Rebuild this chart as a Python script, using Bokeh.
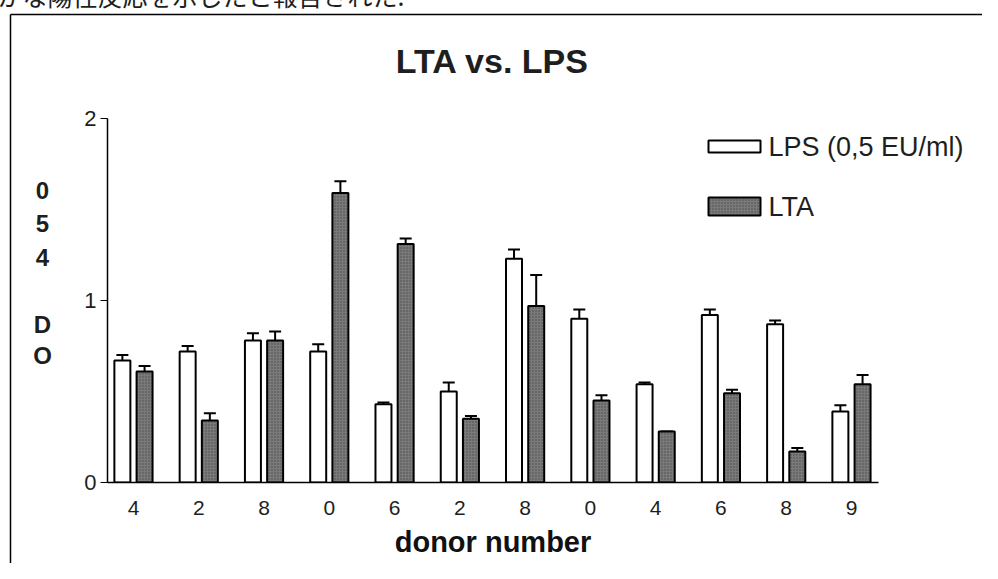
from bokeh.plotting import figure
from bokeh.models import ColumnDataSource, Whisker, TeeHead, FixedTicker, Range1d
from bokeh.core.properties import value
from bokeh.embed import file_html
from bokeh.resources import INLINE

# ---------------- data ----------------
donor_labels = ["4", "2", "8", "0", "6", "2", "8", "0", "4", "6", "8", "9"]
lps_values = [0.67, 0.72, 0.78, 0.72, 0.43, 0.50, 1.23, 0.90, 0.54, 0.92, 0.87, 0.39]
lps_errors = [0.03, 0.03, 0.04, 0.04, 0.01, 0.05, 0.05, 0.05, 0.01, 0.03, 0.02, 0.035]
lta_values = [0.61, 0.34, 0.78, 1.59, 1.31, 0.35, 0.97, 0.45, 0.28, 0.49, 0.17, 0.54]
lta_errors = [0.03, 0.04, 0.05, 0.065, 0.03, 0.015, 0.17, 0.03, 0.0, 0.02, 0.02, 0.05]
y_ticks = [0, 1, 2]

series_names = ["LPS (0,5 EU/ml)", "LTA"]
title_text = "LTA vs. LPS"
x_title = "donor number"
y_title_top = "0\n5\n4"
y_title_bottom = "D\nO"
page_caption = "かな陽性反応を示したと報告された."

# ---------------- layout helpers ----------------
W, H = 982, 563
FL, FR, FT, FB = 107, 878, 118, 482     # frame edges in canvas pixels
X0, X1 = 0.602, 12.414
Y0, Y1 = 0.0, 2.0


def dx(px):
    return X0 + (px - FL) * (X1 - X0) / (FR - FL)


def dy(py):
    return Y0 + (FB - py) * (Y1 - Y0) / (FB - FT)


n = len(donor_labels)
xs = list(range(1, n + 1))
off = 0.17
src = ColumnDataSource(dict(
    x=xs,
    x_lps=[x - off for x in xs],
    x_lta=[x + off for x in xs],
    lps=lps_values,
    lta=lta_values,
    lps_hi=[v + e for v, e in zip(lps_values, lps_errors)],
    lta_hi=[v + e for v, e in zip(lta_values, lta_errors)],
))

p = figure(width=W, height=H, x_range=Range1d(X0, X1), y_range=Range1d(Y0, Y1),
           output_backend="svg", toolbar_location=None,
           min_border_left=FL, min_border_right=W - FR,
           min_border_top=FT, min_border_bottom=H - FB)
p.background_fill_color = "white"
p.border_fill_color = "white"
p.outline_line_color = None
p.xgrid.visible = False
p.ygrid.visible = False

FONT = "Liberation Sans"
INK = "#1e1e1e"
LPS_STYLE = dict(fill_color="white", line_color="black", line_width=2)
LTA_STYLE = dict(fill_color="#7a7a7a", line_color="black", line_width=2,
                 hatch_pattern="dot", hatch_color="#4a4a4a", hatch_scale=3, hatch_weight=1)

for base, lo, hi in (("x_lps", "lps", "lps_hi"), ("x_lta", "lta", "lta_hi")):
    w = Whisker(source=src, base=base, lower=lo, upper=hi, line_width=2, line_color="black",
                upper_head=TeeHead(size=12, line_width=2, line_color="black"), lower_head=None)
    p.add_layout(w)

p.vbar(x="x_lps", top="lps", width=0.245, source=src, **LPS_STYLE)
p.vbar(x="x_lta", top="lta", width=0.245, source=src, **LTA_STYLE)

# axes
xa = p.xaxis[0]
xa.ticker = FixedTicker(ticks=xs)
xa.major_label_overrides = {x: lab for x, lab in zip(xs, donor_labels)}
xa.major_tick_line_color = None
xa.minor_tick_line_color = None
xa.axis_line_width = 1.5
xa.major_label_standoff = 12
xa.major_label_text_font = FONT
xa.major_label_text_font_size = "21px"
xa.major_label_text_color = INK
xa.axis_label = x_title
xa.axis_label_text_font = FONT
xa.axis_label_text_font_style = "bold"
xa.axis_label_text_font_size = "29px"
xa.axis_label_text_color = "#111111"
xa.axis_label_standoff = 8

ya = p.yaxis[0]
ya.ticker = FixedTicker(ticks=y_ticks)
ya.minor_tick_line_color = None
ya.major_tick_in = 0
ya.major_tick_out = 7
ya.axis_line_width = 1.5
ya.major_label_standoff = 4
ya.major_label_text_font = FONT
ya.major_label_text_font_size = "22px"
ya.major_label_text_color = INK

# title, stacked y label and page caption as unclipped text glyphs
p.text(x=[dx(492)], y=[dy(41)], text=[title_text], text_align="center",
       text_baseline="top", text_font=value(FONT), text_font_size="34px",
       text_font_style="bold", text_color=INK, level="overlay")
p.text(x=[dx(42)], y=[dy(176)], text=[y_title_top], text_align="center",
       text_baseline="top", text_font=value(FONT), text_font_size="24px",
       text_font_style="bold", text_line_height=1.25, text_color=INK, level="overlay")
p.text(x=[dx(42)], y=[dy(310)], text=[y_title_bottom], text_align="center",
       text_baseline="top", text_font=value(FONT), text_font_size="24px",
       text_font_style="bold", text_line_height=1.15, text_color=INK, level="overlay")
p.text(x=[dx(-3)], y=[dy(12)], text=[page_caption], text_align="left",
       text_baseline="bottom", text_font=value("Noto Sans CJK JP"),
       text_font_size="25px", text_color=INK, level="overlay")

# outer document frame
p.segment(x0=[dx(10), dx(10)], y0=[dy(14), dy(14)], x1=[dx(10), dx(1000)],
          y1=[dy(600), dy(14)], line_color="black", line_width=1.5, level="overlay")

# legend (drawn by hand so it may extend past the plot frame)
p.quad(left=[dx(708)], right=[dx(760)], top=[dy(140)], bottom=[dy(152)],
       level="overlay", **LPS_STYLE)
p.quad(left=[dx(708)], right=[dx(760)], top=[dy(197)], bottom=[dy(215)],
       level="overlay", **LTA_STYLE)
p.text(x=[dx(768), dx(768)], y=[dy(146), dy(206)], text=series_names,
       text_align="left", text_baseline="middle", text_font=value(FONT),
       text_font_size="27px", text_color=INK, level="overlay")

open("out.html", "w").write(file_html(p, INLINE))
